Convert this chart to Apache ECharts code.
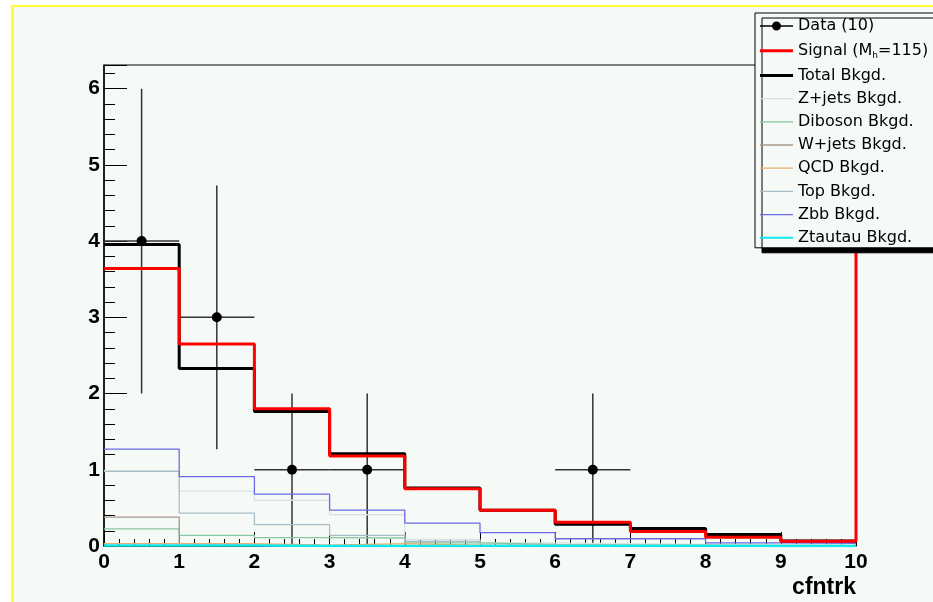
<!DOCTYPE html>
<html>
<head>
<meta charset="utf-8">
<script src="https://cdn.jsdelivr.net/npm/echarts@6/dist/echarts.min.js"></script>
<style>
  html, body { margin:0; padding:0; background:#ffffff; }
  #bg { position:absolute; left:11px; top:5px; width:1000px; height:1000px; background:#f6faf7; border-left:3px solid #ffff33; border-top:2px solid #ffff33; box-sizing:border-box; }
  #chart { position:absolute; left:0; top:0; width:933px; height:602px; }
</style>
</head>
<body>
<div id="bg"></div>
<div id="chart"></div>
<script>
// ---- data ----
const binEdges = [0,1,2,3,4,5,6,7,8,9,10];
const xTicks = [0,1,2,3,4,5,6,7,8,9,10];
const yTicks = [0,1,2,3,4,5,6];

const dataX = [0.5, 1.5, 2.5, 3.5, 6.5];
const dataY = [4, 3, 1, 1, 1];
const dataErrLo = [2, 1.73, 1, 1, 1];
const dataErrHi = [2, 1.73, 1, 1, 1];
const dataXErr = [0.5, 0.5, 0.5, 0.5, 0.5];

const signalVals = [3.64, 2.65, 1.80, 1.18, 0.75, 0.47, 0.31, 0.19, 0.115, 0.062];
const signalOverflow = 50;
const totalBkgVals = [3.955, 2.33, 1.765, 1.21, 0.76, 0.47, 0.285, 0.23, 0.152, 0.065];
const zjetsVals    = [0.99, 0.72, 0.60, 0.41, 0.085, 0.04, 0.03, 0.02, 0.02, 0.01];
const dibosonVals  = [0.225, 0.14, 0.11, 0.105, 0.04, 0.02, 0.01, 0.01, 0.005, 0.005];
const wjetsVals    = [0.38, 0.01, 0.005, 0.005, 0.005, 0.005, 0.003, 0.003, 0, 0];
const qcdVals      = [0.03, 0.03, 0.01, 0.03, 0.01, 0.005, 0.005, 0, 0, 0];
const topBkgVals   = [0.98, 0.43, 0.28, 0.14, 0.06, 0.01, 0.01, 0.005, 0.005, 0.005];
const zbbVals      = [1.27, 0.91, 0.68, 0.47, 0.30, 0.175, 0.095, 0.095, 0.04, 0.035];
const ztautauVals  = [0.006, 0.006, 0, 0, 0, 0, 0, 0, 0, 0];

const legendNames = ['Data (10)', 'Signal (Mh=115)', 'Total Bkgd.', 'Z+jets Bkgd.', 'Diboson Bkgd.', 'W+jets Bkgd.', 'QCD Bkgd.', 'Top Bkgd.', 'Zbb Bkgd.', 'Ztautau Bkgd.'];

// ---- helpers ----
function hist(vals) {
  const d = vals.map((v, i) => [binEdges[i], v]);
  d.push([binEdges[binEdges.length - 1], vals[vals.length - 1]]);
  return d;
}
function histLine(name, vals, color, width) {
  return {
    name: name, type: 'line', step: 'end', data: hist(vals),
    symbol: 'none', clip: true,
    lineStyle: { color: color, width: width },
    itemStyle: { color: color }
  };
}
function lineIcon(h) { return 'path://M0,0H33V' + h + 'H0Z'; }
const dataIcon = 'path://M0,7.25H33V8.75H0Z M21,8A4.5,4.5,0,1,1,12,8A4.5,4.5,0,1,1,21,8Z';
const iconHeights = { 'Signal (Mh=115)': 3, 'Total Bkgd.': 3, 'Ztautau Bkgd.': 2 };

const sigData = hist(signalVals);
sigData.push([binEdges[binEdges.length - 1], signalOverflow]);

const pointData = [];
dataX.forEach((x, i) => { if (i) pointData.push('-'); pointData.push([x, dataY[i]]); });
const errData = dataX.map((x, i) => [x, dataY[i], dataErrLo[i], dataErrHi[i], dataXErr[i]]);

const font = "'Liberation Sans', Arial, Helvetica, sans-serif";
const lfont = "'DejaVu Sans', 'Liberation Sans', sans-serif";

const chart = echarts.init(document.getElementById('chart'), null, { renderer: 'canvas' });
chart.setOption({
  animation: false,
  backgroundColor: 'transparent',
  textStyle: { fontFamily: font },
  grid: { left: 104, right: 77, top: 65, bottom: 56, show: true, borderColor: '#000', borderWidth: 1, backgroundColor: 'transparent' },
  xAxis: {
    type: 'value', min: xTicks[0], max: xTicks[xTicks.length - 1], interval: 1,
    name: 'cfntrk', nameLocation: 'end', nameGap: 0,
    nameTextStyle: { fontFamily: font, fontWeight: 'bold', fontSize: 23, color: '#000', align: 'right', verticalAlign: 'top', padding: [30, 0, 0, 0] },
    axisLine: { show: true, onZero: false, lineStyle: { color: '#000', width: 1 } },
    axisTick: { show: true, inside: true, length: 14, lineStyle: { color: '#000', width: 1 } },
    minorTick: { show: true, splitNumber: 5, length: 7, lineStyle: { color: '#000', width: 1 } },
    splitLine: { show: false },
    axisLabel: { fontFamily: font, fontWeight: 'bold', fontSize: 21, color: '#000', margin: 6 }
  },
  yAxis: {
    type: 'value', min: yTicks[0], max: 6.31, interval: 1,
    axisLine: { show: true, onZero: false, lineStyle: { color: '#000', width: 1.5 } },
    axisTick: { show: true, inside: true, length: 23, lineStyle: { color: '#000', width: 1 } },
    minorTick: { show: true, splitNumber: 5, length: 11, lineStyle: { color: '#000', width: 1 } },
    splitLine: { show: false },
    axisLabel: { fontFamily: font, fontWeight: 'bold', fontSize: 21, color: '#000', margin: 4, showMaxLabel: false }
  },
  legend: {
    orient: 'vertical', left: 755, top: 13,
    padding: [5, 60, 2, 5],
    itemWidth: 33, itemHeight: 16, itemGap: 7.2,
    itemStyle: { borderWidth: 0 },
    backgroundColor: '#f6faf7', borderColor: '#000', borderWidth: 1,
    shadowColor: '#000', shadowOffsetX: 7, shadowOffsetY: 5, shadowBlur: 0,
    textStyle: { fontFamily: lfont, fontSize: 16, color: '#000', lineHeight: 16,
      rich: { sub: { fontSize: 9, lineHeight: 6, padding: [10, 0, 0, 0], fontFamily: lfont, color: '#000' },
              n: { fontSize: 16, lineHeight: 16, fontFamily: lfont, color: '#000' } } },
    formatter: function (name) {
      if (name.indexOf('Signal') === 0) return '{n|Signal (M}{sub|h}{n|=115)}';
      return name;
    },
    data: legendNames.map(n => ({ name: n, icon: n.indexOf('Data') === 0 ? dataIcon : lineIcon(iconHeights[n] || 1.3) }))
  },
  series: [
    histLine('Z+jets Bkgd.', zjetsVals, '#d8e2e2', 1.3),
    histLine('Diboson Bkgd.', dibosonVals, '#88c8a0', 1.3),
    histLine('W+jets Bkgd.', wjetsVals, '#a89888', 1.3),
    histLine('QCD Bkgd.', qcdVals, '#e8b070', 1.3),
    histLine('Top Bkgd.', topBkgVals, '#a8bec6', 1.3),
    histLine('Zbb Bkgd.', zbbVals, '#6a6ae8', 1.3),
    histLine('Ztautau Bkgd.', ztautauVals, '#10e8f0', 2.5),
    histLine('Total Bkgd.', totalBkgVals, '#000000', 3),
    {
      name: 'Signal (Mh=115)', type: 'line', step: 'end', data: sigData, symbol: 'none', clip: true,
      lineStyle: { color: '#ff0000', width: 3 }, itemStyle: { color: '#ff0000' }
    },
    {
      name: 'Data (10)', type: 'line', data: pointData, symbol: 'circle', symbolSize: 10, showSymbol: true,
      connectNulls: false, clip: true,
      lineStyle: { color: '#000', width: 1.5 }, itemStyle: { color: '#000' }, z: 4
    },
    {
      name: 'Data (10)', type: 'custom', data: errData, encode: { x: 0, y: 1 }, z: 3, clip: true,
      renderItem: function (params, api) {
        const x = api.value(0), y = api.value(1), lo = api.value(2), hi = api.value(3), xe = api.value(4);
        const p = api.coord([x, y]);
        const t = api.coord([x, y + hi]);
        const b = api.coord([x, y - lo]);
        const l = api.coord([x - xe, y]);
        const r = api.coord([x + xe, y]);
        const st = { stroke: '#333', lineWidth: 1.5 };
        return { type: 'group', children: [
          { type: 'line', shape: { x1: p[0], y1: t[1], x2: p[0], y2: b[1] }, style: st },
          { type: 'line', shape: { x1: l[0], y1: p[1], x2: r[0], y2: p[1] }, style: st }
        ] };
      }
    }
  ]
});
</script>
</body>
</html>
